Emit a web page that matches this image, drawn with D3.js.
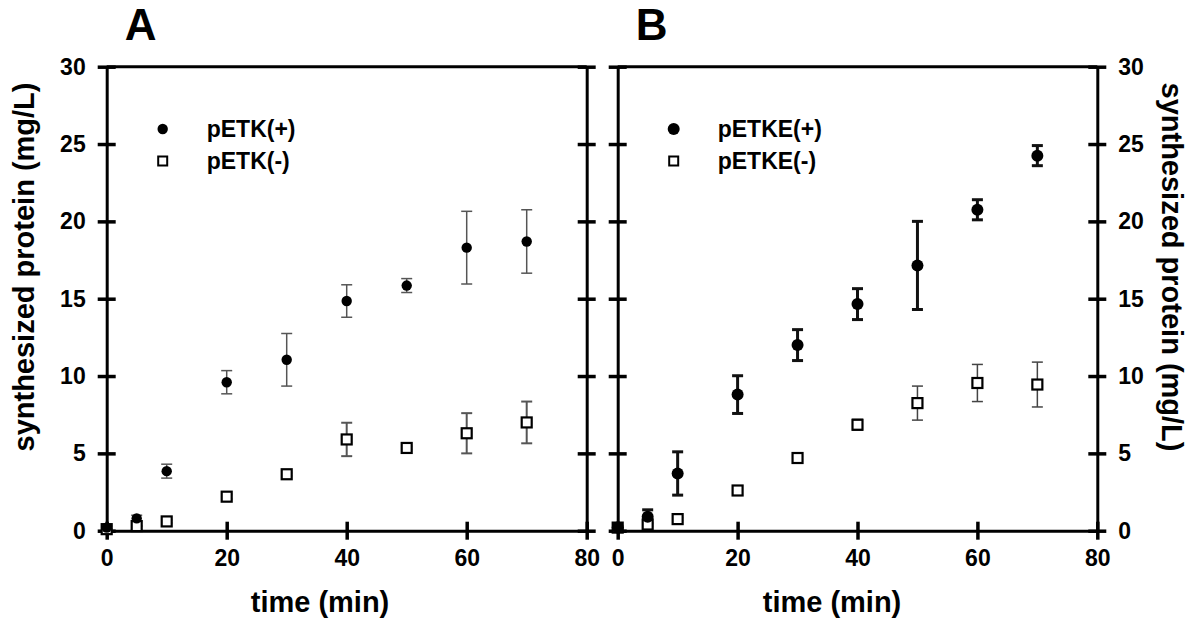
<!DOCTYPE html>
<html>
<head>
<meta charset="utf-8">
<script src="https://cdn.jsdelivr.net/npm/d3@7"></script>
<style>
  body { margin: 0; background: #fff; }
  text { font-family: "Liberation Sans", Arial, sans-serif; font-weight: bold; }
</style>
</head>
<body>
<script>
var width = 1200,
    height = 641;

// sampling times (min)
var time = [0, 5, 10, 20, 30, 40, 50, 60, 70];

// panel A
var etkPlus     = [0.2, 0.8, 3.85, 9.6, 11.05, 14.85, 15.85, 18.3, 18.7];
var etkPlusErr  = [0.1, 0.2, 0.45, 0.75, 1.7, 1.05, 0.45, 2.35, 2.05];
var etkMinus    = [0.1, 0.3, 0.6, 2.2, 3.65, 5.9, 5.35, 6.3, 7.0];
var etkMinusErr = [0, 0, 0.1, 0.15, 0.1, 1.08, 0.1, 1.3, 1.35];

// panel B
var etkePlus     = [0.2, 0.9, 3.7, 8.8, 12.0, 14.65, 17.15, 20.75, 24.25];
var etkePlusErr  = [0.1, 0.45, 1.4, 1.22, 1.0, 1.0, 2.85, 0.65, 0.65];
var etkeMinus    = [0.2, 0.4, 0.75, 2.6, 4.7, 6.85, 8.25, 9.55, 9.45];
var etkeMinusErr = [0, 0.1, 0.1, 0.3, 0.1, 0.35, 1.1, 1.2, 1.45];

var xTicks = [0, 20, 40, 60, 80];
var yTicks = [0, 5, 10, 15, 20, 25, 30];

var svg = d3.select("body").append("svg")
            .attr("width", width)
            .attr("height", height);

var y = d3.scaleLinear().domain([0, 30]).range([530.7, 66.7]);

var panels = [
  { letter: "A", left: 106.7, right: 586.7, side: "left",
    names: ["pETK(+)", "pETK(-)"],
    plus: etkPlus, plusErr: etkPlusErr, minus: etkMinus, minusErr: etkMinusErr,
    plusBar: { w: 1.5, c: "#555" }, minusBar: { w: 2, c: "#555" }, r: 5.2,
    titleX: 320 },
  { letter: "B", left: 617.7, right: 1097.3, side: "right",
    names: ["pETKE(+)", "pETKE(-)"],
    plus: etkePlus, plusErr: etkePlusErr, minus: etkeMinus, minusErr: etkeMinusErr,
    plusBar: { w: 3, c: "#111" }, minusBar: { w: 1.5, c: "#444" }, r: 6,
    titleX: 832 }
];

panels.forEach(function(p) {
  var x = d3.scaleLinear().domain([0, 80]).range([p.left, p.right]);
  var g = svg.append("g");

  // frame top line
  g.append("line")
   .attr("x1", p.left).attr("x2", p.right)
   .attr("y1", y(30)).attr("y2", y(30))
   .attr("stroke", "#000").attr("stroke-width", 3);

  // bottom axis
  var xa = g.append("g")
            .attr("transform", "translate(0," + y(0) + ")")
            .call(d3.axisBottom(x).tickValues(xTicks).tickSize(9).tickPadding(9).tickSizeOuter(0));
  // left + right axes
  var la = g.append("g")
            .attr("transform", "translate(" + p.left + ",0)")
            .call(d3.axisLeft(y).tickValues(yTicks).tickSize(9).tickPadding(12).tickSizeOuter(0));
  var ra = g.append("g")
            .attr("transform", "translate(" + p.right + ",0)")
            .call(d3.axisRight(y).tickValues(yTicks).tickSize(9).tickPadding(12).tickSizeOuter(0));

  [xa, la, ra].forEach(function(a) {
    a.select(".domain").attr("stroke", "#000").attr("stroke-width", 3);
    a.selectAll(".tick line").attr("stroke", "#000").attr("stroke-width", 3.5);
    a.selectAll(".tick text").attr("fill", "#000").style("font-size", "23px");
  });
  xa.selectAll(".tick line").attr("y1", -9);
  la.selectAll(".tick line").attr("x1", 9);
  ra.selectAll(".tick line").attr("x1", -9);
  xa.selectAll(".tick text").attr("dy", "0.75em");
  if (p.side == "left") ra.selectAll(".tick text").remove();
  else la.selectAll(".tick text").remove();

  // error bars
  function bars(vals, errs, st) {
    var eb = g.append("g").selectAll("g")
              .data(time.map(function(t, i) { return { t: t, v: vals[i], e: errs[i] }; }))
              .enter().append("g")
              .attr("stroke", st.c).attr("stroke-width", st.w);
    eb.append("line")
      .attr("x1", function(d) { return x(d.t); }).attr("x2", function(d) { return x(d.t); })
      .attr("y1", function(d) { return y(d.v + d.e); }).attr("y2", function(d) { return y(d.v - d.e); });
    [1, -1].forEach(function(s) {
      eb.append("line")
        .attr("x1", function(d) { return x(d.t) - 5.5; }).attr("x2", function(d) { return x(d.t) + 5.5; })
        .attr("y1", function(d) { return y(d.v + s * d.e); }).attr("y2", function(d) { return y(d.v + s * d.e); });
    });
  }
  bars(p.minus, p.minusErr, p.minusBar);
  bars(p.plus, p.plusErr, p.plusBar);

  g.append("g").selectAll("rect")
   .data(time.map(function(t, i) { return [t, p.minus[i]]; }))
   .enter().append("rect")
   .attr("x", function(d) { return x(d[0]) - 5; })
   .attr("y", function(d) { return y(d[1]) - 5; })
   .attr("width", 10).attr("height", 10)
   .attr("fill", "#fff").attr("stroke", "#000").attr("stroke-width", 2.2);

  g.append("g").selectAll("circle")
   .data(time.map(function(t, i) { return [t, p.plus[i]]; }))
   .enter().append("circle")
   .attr("cx", function(d) { return x(d[0]); })
   .attr("cy", function(d) { return y(d[1]); })
   .attr("r", p.r).attr("fill", "#000");

  // legend
  var lx = p.left + 56;
  g.append("circle").attr("cx", lx).attr("cy", 129).attr("r", p.r).attr("fill", "#000");
  g.append("rect").attr("x", lx - 4.5).attr("y", 156.5).attr("width", 9).attr("height", 9)
   .attr("fill", "#fff").attr("stroke", "#000").attr("stroke-width", 2);
  g.append("text").attr("x", lx + 44).attr("y", 137).style("font-size", "23px").text(p.names[0]);
  g.append("text").attr("x", lx + 44).attr("y", 169).style("font-size", "23px").text(p.names[1]);

  // panel letter
  g.append("text").attr("x", p.left + 34).attr("y", 40)
   .attr("text-anchor", "middle").style("font-size", "44px").text(p.letter);

  // x title
  g.append("text").attr("x", p.titleX).attr("y", 612)
   .attr("text-anchor", "middle").style("font-size", "29px").text("time (min)");
});

// y titles
svg.append("text")
   .attr("transform", "translate(34,267) rotate(-90)")
   .attr("text-anchor", "middle").style("font-size", "29px")
   .text("synthesized protein (mg/L)");
svg.append("text")
   .attr("transform", "translate(1162,267) rotate(90)")
   .attr("text-anchor", "middle").style("font-size", "29px")
   .text("synthesized protein (mg/L)");
</script>
</body>
</html>
